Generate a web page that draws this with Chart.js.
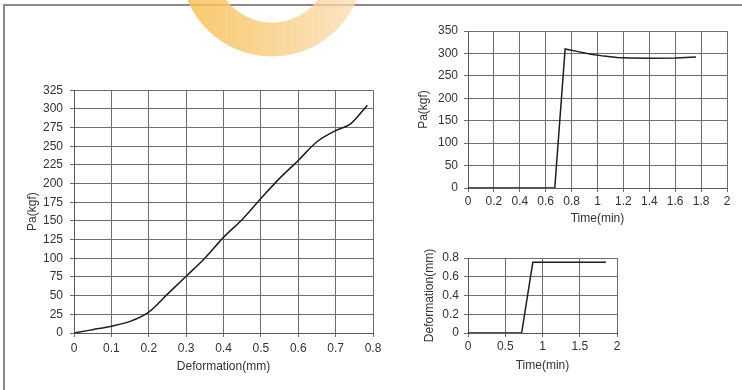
<!DOCTYPE html>
<html>
<head>
<meta charset="utf-8">
<script src="https://cdn.jsdelivr.net/npm/chart.js@4.4.1/dist/chart.umd.min.js"></script>
<style>
  body { margin: 0; background: #fff; width: 742px; height: 390px; overflow: hidden; position: relative; }
  #frame { position: absolute; left: 3px; top: 4px; width: 800px; height: 500px;
           border-top: 2px solid #8a8a8a; border-left: 2px solid #8a8a8a; }
  #mark { position: absolute; left: 180px; top: -127px; width: 184px; height: 184px; border-radius: 50%;
          background: linear-gradient(90deg, rgba(247, 190, 80, 0.85), rgba(250, 222, 180, 0.75));
          -webkit-mask: radial-gradient(circle, transparent 57px, #000 58px, #000 91px, transparent 92px);
          mask: radial-gradient(circle, transparent 57px, #000 58px, #000 91px, transparent 92px); }
  canvas { position: absolute; }
  #c1 { left: 0; top: 76px; }
  #c2 { left: 400px; top: 0; }
  #c3 { left: 400px; top: 230px; }
</style>
</head>
<body>
<div id="frame"></div>
<div id="mark"></div>
<canvas id="c1" width="400" height="304"></canvas>
<canvas id="c2" width="342" height="230"></canvas>
<canvas id="c3" width="342" height="150"></canvas>
<script>
// load vs deformation
const defX  = [0, 0.05, 0.1, 0.15, 0.2, 0.25, 0.3, 0.35, 0.4, 0.45, 0.5, 0.55, 0.6, 0.65, 0.7, 0.74, 0.785];
const loadY = [0, 4.5, 9, 15.5, 28, 52, 76, 100, 128, 152, 180, 207, 231, 256, 271, 280, 305];

// load vs time
const timeA = [0, 0.67, 0.75, 0.85, 0.95, 1.05, 1.15, 1.25, 1.4, 1.6, 1.76];
const loadA = [0, 0, 310, 304, 298, 294, 291, 290, 289, 290, 292];

// deformation vs time
const timeB = [0, 0.72, 0.87, 1.85];
const defB  = [0, 0, 0.755, 0.755];

const FONT = 'Liberation Sans, Arial, sans-serif';
const TXT = '#333';
const GRID = '#6e6e6e';

function pts(xs, ys) {
  return xs.map((x, i) => ({ x: x, y: ys[i] }));
}

function fmt(v) {
  return String(+v.toFixed(2));
}

function makeChart(id, cfg) {
  return new Chart(document.getElementById(id), {
    type: 'line',
    data: {
      datasets: [{
        data: pts(cfg.xs, cfg.ys),
        borderColor: '#1e1e1e',
        borderWidth: 1.5,
        pointRadius: 0,
        tension: cfg.tension,
        cubicInterpolationMode: cfg.mono ? 'monotone' : 'default',
        fill: false
      }]
    },
    options: {
      responsive: false,
      animation: false,
      layout: { padding: cfg.pad },
      plugins: { legend: { display: false }, tooltip: { enabled: false } },
      scales: {
        x: {
          type: 'linear',
          min: cfg.xMin, max: cfg.xMax,
          afterFit: s => { s.height = cfg.xH; },
          ticks: { stepSize: cfg.xStep, autoSkip: false, maxRotation: 0, color: TXT,
                   font: { family: FONT, size: 12 }, padding: cfg.xTickPad, callback: fmt },
          grid: { color: GRID, tickLength: 4 },
          border: { color: '#5a5a5a' },
          title: { display: true, text: cfg.xTitle, color: TXT,
                   font: { family: FONT, size: 12 }, padding: { top: 0, bottom: cfg.xTitlePad } }
        },
        y: {
          type: 'linear',
          min: cfg.yMin, max: cfg.yMax,
          afterFit: s => { s.width = cfg.yW; },
          ticks: { stepSize: cfg.yStep, autoSkip: false, color: TXT,
                   font: { family: FONT, size: 12 }, padding: cfg.yTickPad, callback: fmt },
          grid: { color: GRID, tickLength: 4 },
          border: { color: '#5a5a5a' },
          title: { display: true, text: cfg.yTitle, color: TXT,
                   font: { family: FONT, size: 12 }, padding: { top: cfg.yTitlePad, bottom: 0 } }
        }
      }
    }
  });
}

makeChart('c1', {
  xs: defX, ys: loadY, tension: 0.4, mono: true,
  xMin: 0, xMax: 0.8, xStep: 0.1, yMin: 0, yMax: 325, yStep: 25,
  xTitle: 'Deformation(mm)', yTitle: 'Pa(kgf)',
  pad: { top: 14, right: 27, left: 0, bottom: 0 },
  xH: 47, yW: 74, xTitlePad: 6, yTitlePad: 25, yTickPad: 7, xTickPad: 4
});

makeChart('c2', {
  xs: timeA, ys: loadA, tension: 0, mono: false,
  xMin: 0, xMax: 2, xStep: 0.2, yMin: 0, yMax: 350, yStep: 50,
  xTitle: 'Time(min)', yTitle: 'Pa(kgf)',
  pad: { top: 31, right: 15, left: 0, bottom: 0 },
  xH: 42, yW: 68, xTitlePad: 4, yTitlePad: 16, yTickPad: 6, xTickPad: 2
});

makeChart('c3', {
  xs: timeB, ys: defB, tension: 0, mono: false,
  xMin: 0, xMax: 2, xStep: 0.5, yMin: 0, yMax: 0.8, yStep: 0.2,
  xTitle: 'Time(min)', yTitle: 'Deformation(mm)',
  pad: { top: 28, right: 125, left: 0, bottom: 0 },
  xH: 47, yW: 68, xTitlePad: 7, yTitlePad: 22, yTickPad: 5, xTickPad: 2
});
</script>
</body>
</html>
